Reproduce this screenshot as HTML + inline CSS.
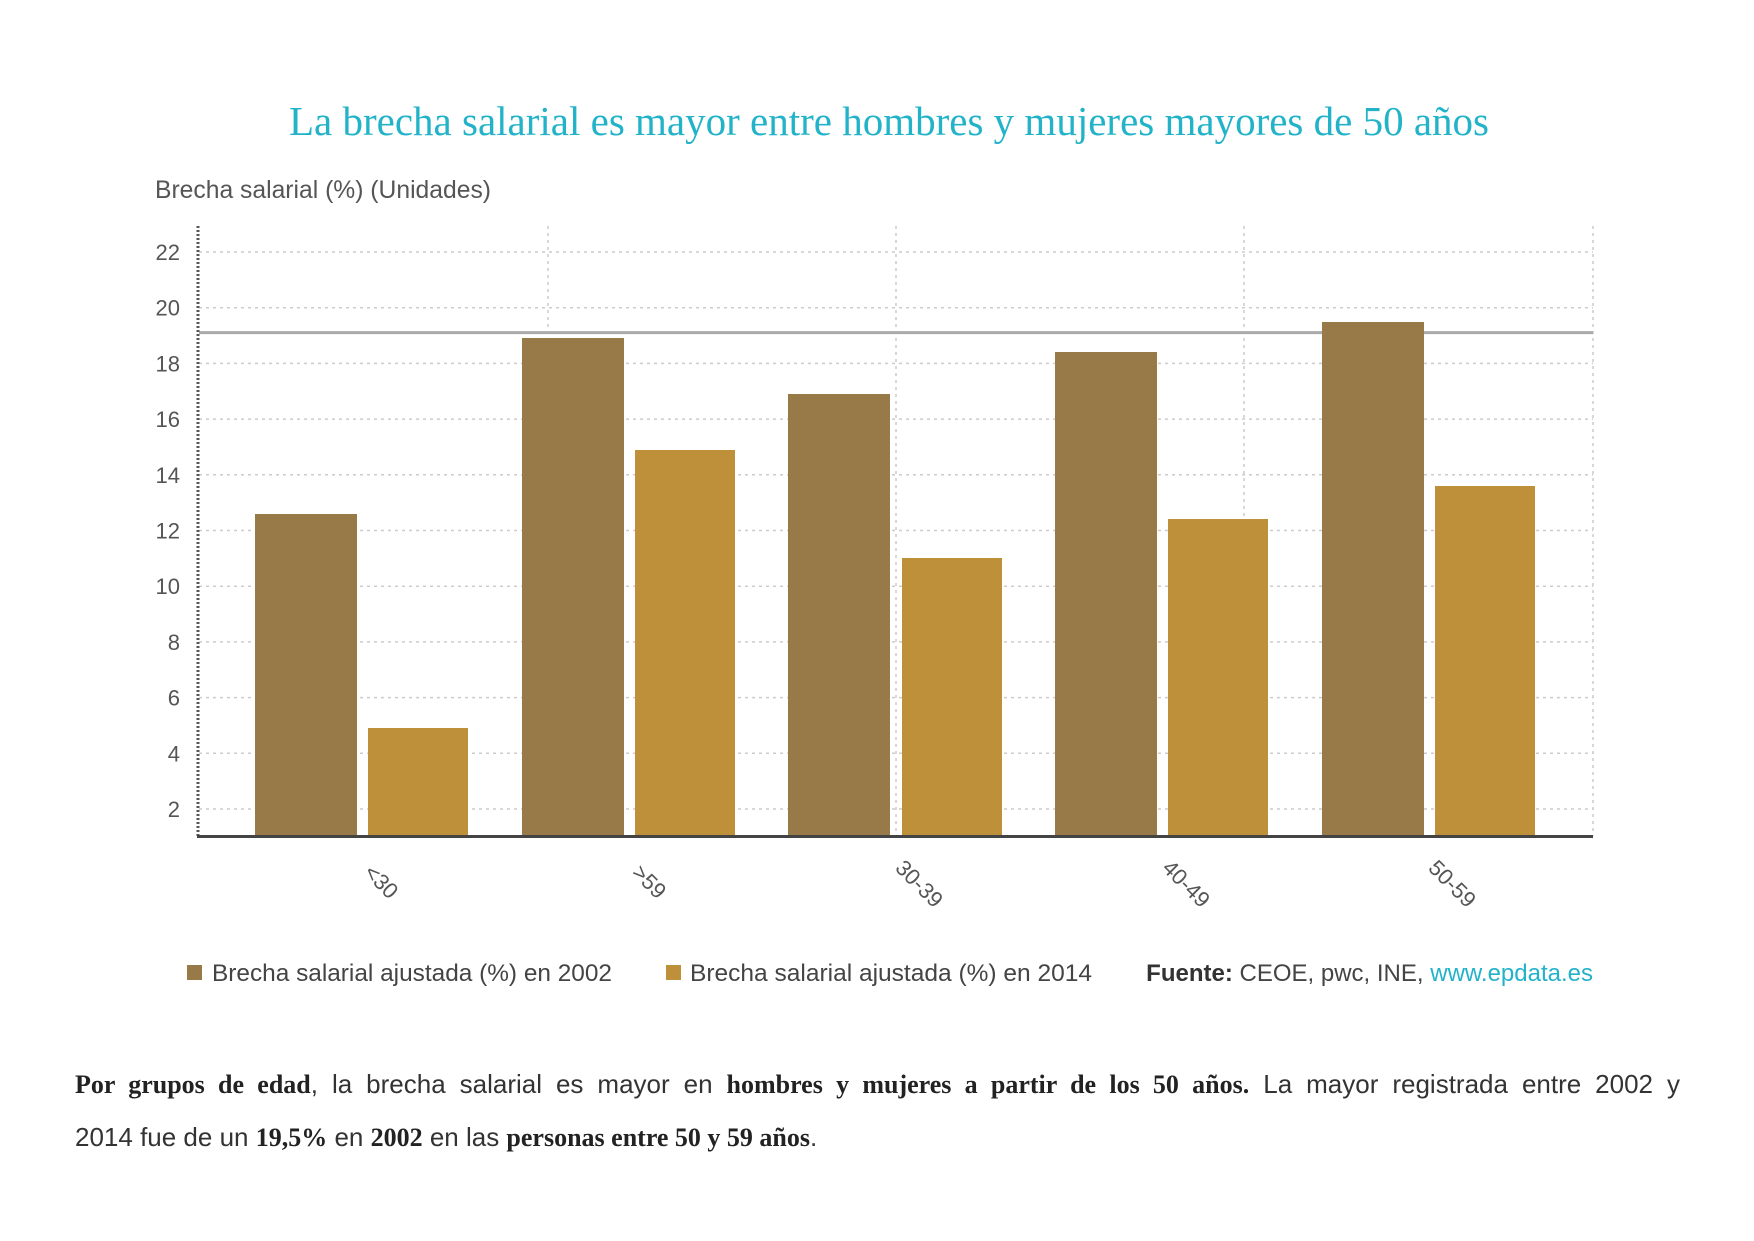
<!DOCTYPE html>
<html><head><meta charset="utf-8"><style>
html,body{margin:0;padding:0;background:#fff;width:1754px;height:1241px;overflow:hidden}
.p{position:absolute;left:75px;width:1605px;font-family:"Liberation Sans",sans-serif;font-size:26px;color:#333;line-height:53px;white-space:nowrap}
.p b{font-family:"Liberation Serif",serif;font-weight:bold;color:#222}
.l1{top:1058px;text-align:justify;text-align-last:justify;white-space:normal}
.l2{top:1111px}
</style></head><body>
<svg width="1754" height="1241" style="position:absolute;left:0;top:0" font-family="Liberation Sans, sans-serif">
<text x="889" y="135" text-anchor="middle" font-size="41" fill="#23b3c9" font-family="Liberation Serif, serif" textLength="1200" lengthAdjust="spacingAndGlyphs">La brecha salarial es mayor entre hombres y mujeres mayores de 50 años</text>
<text x="155" y="198" font-size="25" fill="#555" textLength="336" lengthAdjust="spacingAndGlyphs">Brecha salarial (%) (Unidades)</text>
<g stroke="#ccc" stroke-width="1.5" stroke-dasharray="3,4">
<line x1="199" x2="1593" y1="252" y2="252"/><line x1="199" x2="1593" y1="307.7" y2="307.7"/>
<line x1="199" x2="1593" y1="363.4" y2="363.4"/><line x1="199" x2="1593" y1="419.1" y2="419.1"/>
<line x1="199" x2="1593" y1="474.8" y2="474.8"/><line x1="199" x2="1593" y1="530.5" y2="530.5"/>
<line x1="199" x2="1593" y1="586.2" y2="586.2"/><line x1="199" x2="1593" y1="641.9" y2="641.9"/>
<line x1="199" x2="1593" y1="697.6" y2="697.6"/><line x1="199" x2="1593" y1="753.3" y2="753.3"/>
<line x1="199" x2="1593" y1="809" y2="809"/>
<line x1="548" x2="548" y1="226" y2="836"/><line x1="896" x2="896" y1="226" y2="836"/>
<line x1="1244" x2="1244" y1="226" y2="836"/><line x1="1593" x2="1593" y1="226" y2="836"/>
</g>
<g font-size="22" fill="#555" text-anchor="end">
<text x="180" y="260">22</text><text x="180" y="315.7">20</text><text x="180" y="371.4">18</text>
<text x="180" y="427.1">16</text><text x="180" y="482.8">14</text><text x="180" y="538.5">12</text>
<text x="180" y="594.2">10</text><text x="180" y="649.9">8</text><text x="180" y="705.6">6</text>
<text x="180" y="761.3">4</text><text x="180" y="817">2</text>
</g>
<line x1="199" x2="1593" y1="332.6" y2="332.6" stroke="#aaa" stroke-width="3"/>
<g fill="#977a47">
<rect x="255" y="514" width="102" height="322"/>
<rect x="522" y="338" width="102" height="498"/>
<rect x="788" y="394" width="102" height="442"/>
<rect x="1055" y="352" width="102" height="484"/>
<rect x="1322" y="322" width="102" height="514"/>
</g>
<g fill="#be903a">
<rect x="368" y="728" width="100" height="108"/>
<rect x="635" y="450" width="100" height="386"/>
<rect x="902" y="558" width="100" height="278"/>
<rect x="1168" y="519" width="100" height="317"/>
<rect x="1435" y="486" width="100" height="350"/>
</g>
<line x1="198" x2="198" y1="226" y2="838" stroke="#555" stroke-width="3" stroke-dasharray="2,2"/>
<line x1="197" x2="1593" y1="836.5" y2="836.5" stroke="#444" stroke-width="3"/>
<g font-size="22" fill="#555" text-anchor="middle">
<text transform="translate(376,887) rotate(45)">&lt;30</text>
<text transform="translate(644,887) rotate(45)">&gt;59</text>
<text transform="translate(914,889) rotate(45)">30-39</text>
<text transform="translate(1181,889) rotate(45)">40-49</text>
<text transform="translate(1447,889) rotate(45)">50-59</text>
</g>
<rect x="187" y="965" width="15" height="15" fill="#977a47"/>
<text x="212" y="981" font-size="24" fill="#444" textLength="400" lengthAdjust="spacingAndGlyphs">Brecha salarial ajustada (%) en 2002</text>
<rect x="666" y="965" width="15" height="15" fill="#be903a"/>
<text x="690" y="981" font-size="24" fill="#444" textLength="402" lengthAdjust="spacingAndGlyphs">Brecha salarial ajustada (%) en 2014</text>
<text x="1593" y="981" font-size="24" fill="#444" text-anchor="end"><tspan font-weight="bold" fill="#333">Fuente:</tspan> CEOE, pwc, INE, <tspan fill="#23b3c9">www.epdata.es</tspan></text>
</svg>
<div class="p l1"><b>Por grupos de edad</b>, la brecha salarial es mayor en <b>hombres y mujeres a partir de los 50 años.</b> La mayor registrada entre 2002 y</div>
<div class="p l2">2014 fue de un <b>19,5%</b> en <b>2002</b> en las <b>personas entre 50 y 59 años</b>.</div>
</body></html>
